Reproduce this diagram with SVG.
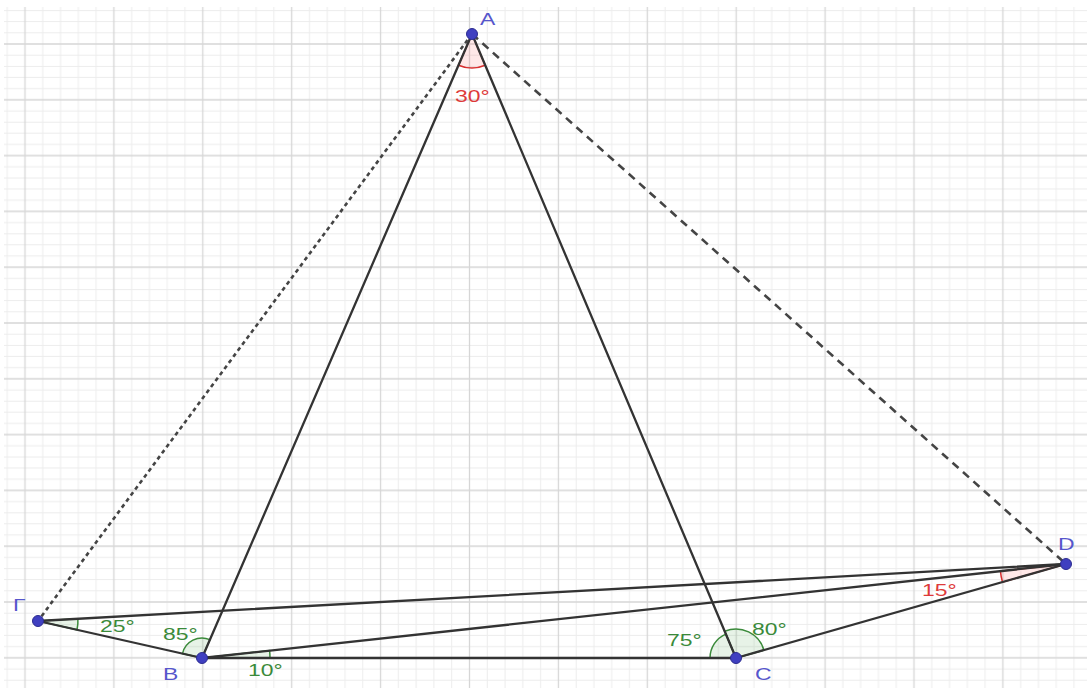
<svg xmlns="http://www.w3.org/2000/svg" width="1087" height="690" viewBox="0 0 1087 690">
<defs>
<pattern id="grid" patternUnits="userSpaceOnUse" x="-19.45" y="16.1" width="88.9" height="55.8">
<g stroke="#ececec" stroke-width="1">
<line x1="8.89" y1="0" x2="8.89" y2="55.8"/>
<line x1="26.67" y1="0" x2="26.67" y2="55.8"/>
<line x1="62.23" y1="0" x2="62.23" y2="55.8"/>
<line x1="80.01" y1="0" x2="80.01" y2="55.8"/>
<line x1="0" y1="5.58" x2="88.9" y2="5.58"/>
<line x1="0" y1="16.74" x2="88.9" y2="16.74"/>
<line x1="0" y1="39.06" x2="88.9" y2="39.06"/>
<line x1="0" y1="50.22" x2="88.9" y2="50.22"/>
</g>
<g stroke="#d6d6d6" stroke-width="1.3">
<line x1="44.45" y1="0" x2="44.45" y2="55.8"/>
<line x1="0" y1="27.9" x2="88.9" y2="27.9"/>
</g>
</pattern>
<style>
.seg{stroke:#333;stroke-width:2.3;fill:none;stroke-linecap:round}
.dot{stroke-dasharray:4 3.5;stroke-linecap:butt;stroke-width:2.6;stroke:#444}
.dash{stroke-dasharray:8 6;stroke-linecap:butt;stroke-width:2.6;stroke:#444}
.pt{fill:#3f3fc0;stroke:#2c2c90;stroke-width:1}
.lbl{font-family:"Liberation Sans",Arial,sans-serif;font-size:17px;fill:#5656cc}
.g{font-family:"Liberation Sans",Arial,sans-serif;font-size:17px;fill:#3a8a3a}
.r{font-family:"Liberation Sans",Arial,sans-serif;font-size:17px;fill:#de3a3a}
.ag{fill:#3a9a3a;fill-opacity:0.12;stroke:#3a8a3a;stroke-width:1.5}
.ar{fill:#ff4040;fill-opacity:0.12;stroke:#d83030;stroke-width:1.5}
</style>
</defs>
<rect x="0" y="0" width="1087" height="690" fill="#ffffff"/>
<rect x="4" y="7" width="1083" height="681" fill="url(#grid)"/>

<g id="angles">
<path class="ar" d="M472,34 L458.5,65.2 A34,34 0 0,0 485.2,65.3 Z"/>
<path class="ag" d="M38,621 L77.9,618.8 A40,40 0 0,1 77,629.8 Z"/>
<path class="ag" d="M202,658 L182.5,653.6 A20,20 0 0,1 209.9,639.6 Z"/>
<path class="ag" d="M202,658 L269.6,650.6 A68,68 0 0,1 270,658 Z"/>
<path class="ag" d="M736,658 L710,658 A26,26 0 0,1 725.9,634.1 Z"/>
<path class="ag" d="M736,658 L724.7,631.3 A29,29 0 0,1 763.9,650.3 Z"/>
<path class="ar" d="M1066,564 L1000.4,571.1 A66,66 0 0,0 1002.5,582.1 Z"/>
</g>

<g id="connectors">
<line class="seg" x1="472" y1="34" x2="202" y2="658"/>
<line class="seg" x1="472" y1="34" x2="736" y2="658"/>
<line class="seg" x1="202" y1="658" x2="736" y2="658"/>
<line class="seg" x1="38" y1="621" x2="202" y2="658"/>
<line class="seg" x1="38" y1="621" x2="1066" y2="564"/>
<line class="seg" x1="202" y1="658" x2="1066" y2="564"/>
<line class="seg" x1="736" y1="658" x2="1066" y2="564"/>
<line class="seg dot" x1="472" y1="34" x2="38" y2="621"/>
<line class="seg dash" x1="472" y1="34" x2="1066" y2="564"/>
</g>

<g id="node-A">
<circle class="pt" cx="472" cy="34" r="5.5"/>
<text class="lbl" transform="translate(480,25) scale(1.35,1)">A</text>
</g>
<g id="node-B">
<circle class="pt" cx="202" cy="658" r="5.5"/>
<text class="lbl" transform="translate(163,680) scale(1.35,1)">B</text>
</g>
<g id="node-C">
<circle class="pt" cx="736" cy="658" r="5.5"/>
<text class="lbl" transform="translate(755,680) scale(1.35,1)">C</text>
</g>
<g id="node-D">
<circle class="pt" cx="1066" cy="564" r="5.5"/>
<text class="lbl" transform="translate(1058,550) scale(1.35,1)">D</text>
</g>
<g id="node-G">
<circle class="pt" cx="38" cy="621" r="5.5"/>
<text class="lbl" transform="translate(13,611) scale(1.35,1)">Γ</text>
</g>

<g id="angle-labels">
<text class="r" transform="translate(455,102) scale(1.35,1)">30°</text>
<text class="g" transform="translate(100,632) scale(1.35,1)">25°</text>
<text class="g" transform="translate(163,640) scale(1.35,1)">85°</text>
<text class="g" transform="translate(248,676) scale(1.35,1)">10°</text>
<text class="g" transform="translate(667,646) scale(1.35,1)">75°</text>
<text class="g" transform="translate(752,635) scale(1.35,1)">80°</text>
<text class="r" transform="translate(922,596) scale(1.35,1)">15°</text>
</g>
</svg>
